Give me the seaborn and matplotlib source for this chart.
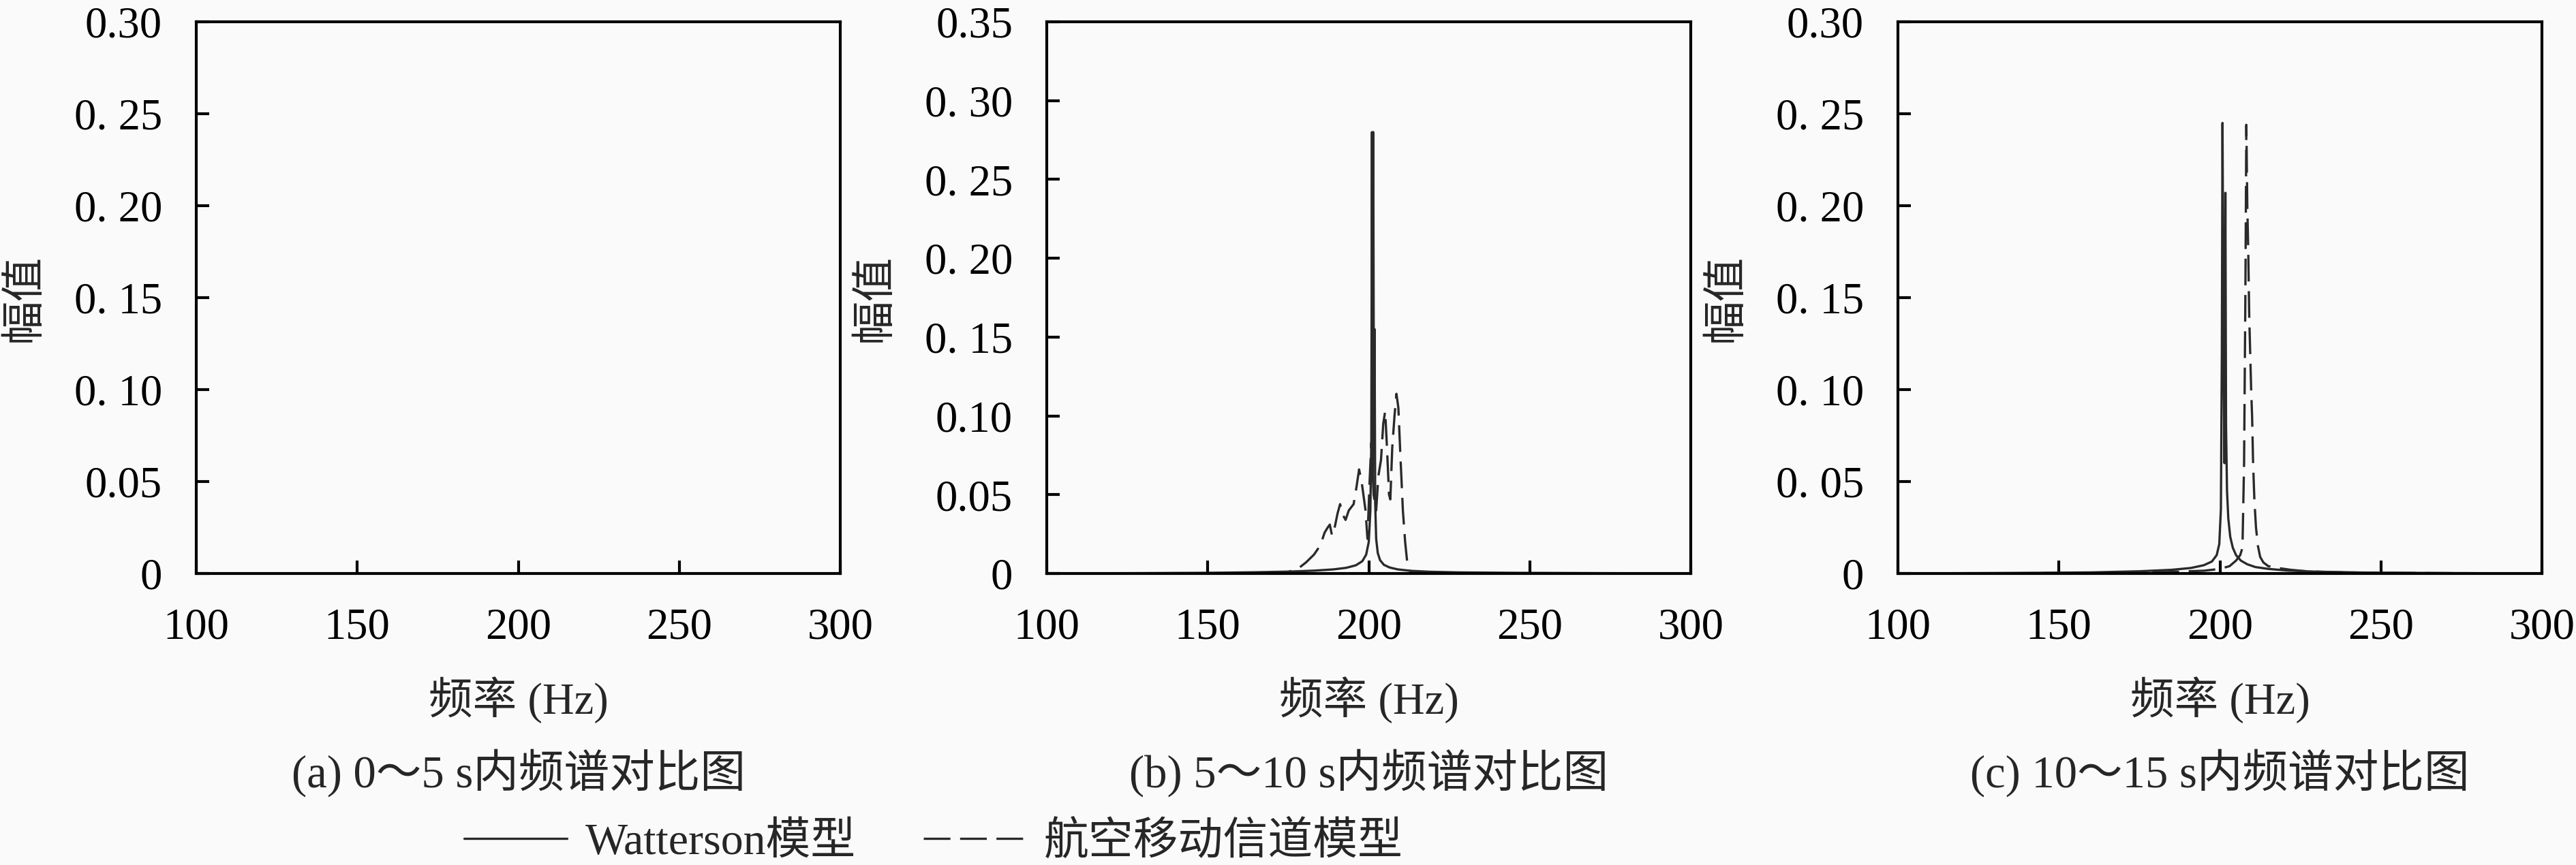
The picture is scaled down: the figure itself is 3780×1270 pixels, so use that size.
import numpy as np
import pandas as pd
import matplotlib
matplotlib.use("Agg")
import matplotlib.pyplot as plt
from matplotlib.lines import Line2D
import seaborn as sns

# ---------------- data ----------------
# panel (a): 0~5 s  (both spectra lie on the zero line)
freq_a_w = [100, 200, 300]
amp_a_w = [0.0, 0.0, 0.0]
freq_a_a = [100, 200, 300]
amp_a_a = [0.0, 0.0, 0.0]

# panel (b): 5~10 s
freq_b_w = [100, 130, 150, 165, 175, 183, 189, 193, 196, 198, 199.2, 200.0, 200.5,
            200.8, 201.0, 201.2, 201.4, 201.6, 201.8, 202.0, 202.3, 202.8, 203.5,
            204.7, 206.5, 209, 213, 219, 228, 245, 270, 300]
amp_b_w = [0.0, 0.0002, 0.0004, 0.0008, 0.0012, 0.0018, 0.0026, 0.0036, 0.0052,
           0.0078, 0.012, 0.020, 0.040, 0.085, 0.280, 0.060, 0.280, 0.090, 0.155,
           0.045, 0.022, 0.013, 0.0085, 0.0055, 0.0038, 0.0026, 0.0017, 0.0011,
           0.0007, 0.0004, 0.0002, 0.0]

freq_b_a = [100, 150, 170, 175, 178, 180.5, 183, 185, 186.3, 187.2, 187.9, 188.6,
            189.5, 190.3, 191.1, 192.0, 192.8, 193.8, 195.3, 196.2, 197.0, 197.8,
            199.0, 199.6, 200.3, 200.8, 201.5, 202.3, 203.0, 203.8, 204.5, 205.1,
            205.7, 206.3, 206.7, 207.3, 208.0, 208.6, 209.2, 209.8, 210.6, 211.3,
            211.9, 212.5, 214, 220, 240, 300]
amp_b_a = [0.0, 0.0, 0.0003, 0.001, 0.003, 0.007, 0.012, 0.018, 0.026, 0.029,
           0.031, 0.024, 0.030, 0.038, 0.044, 0.037, 0.034, 0.040, 0.044, 0.055,
           0.066, 0.058, 0.040, 0.022, 0.060, 0.083, 0.050, 0.040, 0.062, 0.072,
           0.095, 0.103, 0.078, 0.050, 0.047, 0.080, 0.100, 0.114, 0.105, 0.076,
           0.040, 0.020, 0.008, 0.002, 0.0005, 0.0002, 0.0001, 0.0]

# panel (c): 10~15 s
freq_c_w = [100, 140, 160, 175, 185, 191, 195, 197.5, 199.0, 199.8, 200.3, 200.6,
            200.8, 201.1, 201.4, 201.7, 201.9, 202.2, 202.6, 203.2, 204.0, 205.0,
            206.5, 208.5, 211, 215, 221, 230, 245, 270, 300]
amp_c_w = [0.0, 0.0003, 0.0006, 0.0012, 0.002, 0.003, 0.0045, 0.0065, 0.010, 0.016,
           0.035, 0.120, 0.245, 0.130, 0.060, 0.207, 0.080, 0.045, 0.030, 0.020,
           0.014, 0.010, 0.007, 0.005, 0.0035, 0.0025, 0.0016, 0.001, 0.0005,
           0.0002, 0.0]

freq_c_a = [100, 150, 180, 195, 200, 203, 205, 206.3, 207.0, 207.5, 207.9, 208.2,
            208.5, 208.8, 209.1, 209.4, 209.7, 210.0, 210.3, 210.7, 211.2, 211.8,
            212.5, 213.5, 215, 218, 222, 227, 235, 250, 300]
amp_c_a = [0.0, 0.0002, 0.0006, 0.0015, 0.0025, 0.004, 0.007, 0.010, 0.014, 0.060,
           0.150, 0.244, 0.200, 0.175, 0.140, 0.120, 0.100, 0.085, 0.060, 0.040,
           0.025, 0.015, 0.009, 0.006, 0.004, 0.003, 0.002, 0.0012, 0.0007,
           0.0003, 0.0]

x_ticks = [100, 150, 200, 250, 300]
x_ticklabels = ["100", "150", "200", "250", "300"]
y_ticks_a = [0, 0.05, 0.10, 0.15, 0.20, 0.25, 0.30]
y_labels_a = ["0", "0.05", "0. 10", "0. 15", "0. 20", "0. 25", "0.30"]
y_ticks_b = [0, 0.05, 0.10, 0.15, 0.20, 0.25, 0.30, 0.35]
y_labels_b = ["0", "0.05", "0.10", "0. 15", "0. 20", "0. 25", "0. 30", "0.35"]
y_ticks_c = [0, 0.05, 0.10, 0.15, 0.20, 0.25, 0.30]
y_labels_c = ["0", "0. 05", "0. 10", "0. 15", "0. 20", "0. 25", "0.30"]

captions = ["(a) 0～5 s内频谱对比图", "(b) 5～10 s内频谱对比图", "(c) 10～15 s内频谱对比图"]
series_names = ["Watterson模型", "航空移动信道模型"]
xlabel = "频率 (Hz)"
ylabel = "幅值"

# ---------------- style ----------------
sns.set_theme(style="white")
plt.rcParams["font.family"] = ["Liberation Serif", "Noto Sans CJK SC", "DejaVu Sans"]
plt.rcParams["lines.scale_dashes"] = False
plt.rcParams["axes.unicode_minus"] = False

BG = "#fafafa"
LC = "#2a2a2a"
DASH = (0, (9.4, 3.4))
LW = 0.8

fig = plt.figure(figsize=(12.6, 1270 / 300), dpi=300, facecolor=BG)

W, H = 3780, 1270
lefts = [288, 1536, 2785]
ax_w = 945
top_px, bot_px = 32, 842

panels = [
    (freq_a_w, amp_a_w, freq_a_a, amp_a_a, 0.30, y_ticks_a, y_labels_a),
    (freq_b_w, amp_b_w, freq_b_a, amp_b_a, 0.35, y_ticks_b, y_labels_b),
    (freq_c_w, amp_c_w, freq_c_a, amp_c_a, 0.30, y_ticks_c, y_labels_c),
]

for i, (fw, aw, fa, aa, ymax, yt, yl) in enumerate(panels):
    ax = fig.add_axes([lefts[i] / W, 1 - bot_px / H, ax_w / W, (bot_px - top_px) / H])
    ax.set_facecolor(BG)
    dfw = pd.DataFrame({"f": fw, "a": aw})
    dfa = pd.DataFrame({"f": fa, "a": aa})
    sns.lineplot(data=dfa, x="f", y="a", ax=ax, color=LC, linewidth=LW,
                 linestyle=DASH, estimator=None, sort=False, legend=False)
    sns.lineplot(data=dfw, x="f", y="a", ax=ax, color=LC, linewidth=LW,
                 estimator=None, sort=False, legend=False)
    ax.set_xlim(100, 300)
    ax.set_ylim(0, ymax)
    ax.set_xticks(x_ticks)
    ax.set_xticklabels(x_ticklabels)
    ax.set_yticks(yt)
    ax.set_yticklabels(yl)
    ax.tick_params(axis="both", direction="in", length=4.5, width=1.0, pad=12,
                   labelsize=15.5, colors="black", top=False, right=False,
                   bottom=True, left=True)
    for s in ax.spines.values():
        s.set_visible(True)
        s.set_color("black")
        s.set_linewidth(1.0)
    ax.set_xlabel(xlabel, fontsize=15.5)
    ax.xaxis.set_label_coords(0.5, -0.2296)
    ax.xaxis.label.set_va("center")
    ax.set_ylabel(ylabel, fontsize=15.5)
    ax.yaxis.set_label_coords(-0.2656, 0.5)
    ax.yaxis.label.set_va("center")
    ax.yaxis.label.set_ha("center")
    ax.grid(False)
    cx = (lefts[i] + ax_w / 2) / W
    fig.text(cx, 1 - 1135 / H, captions[i], ha="center", va="center", fontsize=16)

handles = [Line2D([], [], color=LC, linewidth=LW),
           Line2D([], [], color=LC, linewidth=LW, linestyle=DASH)]
fig.legend(handles, series_names, loc="center",
           bbox_to_anchor=(1370 / W, 1 - 1237 / H), ncol=2, frameon=False,
           fontsize=15.8, handlelength=2.3, handletextpad=0.4, columnspacing=1.5,
           borderaxespad=0, borderpad=0)

fig.savefig("out.png", dpi=300, facecolor=BG)
